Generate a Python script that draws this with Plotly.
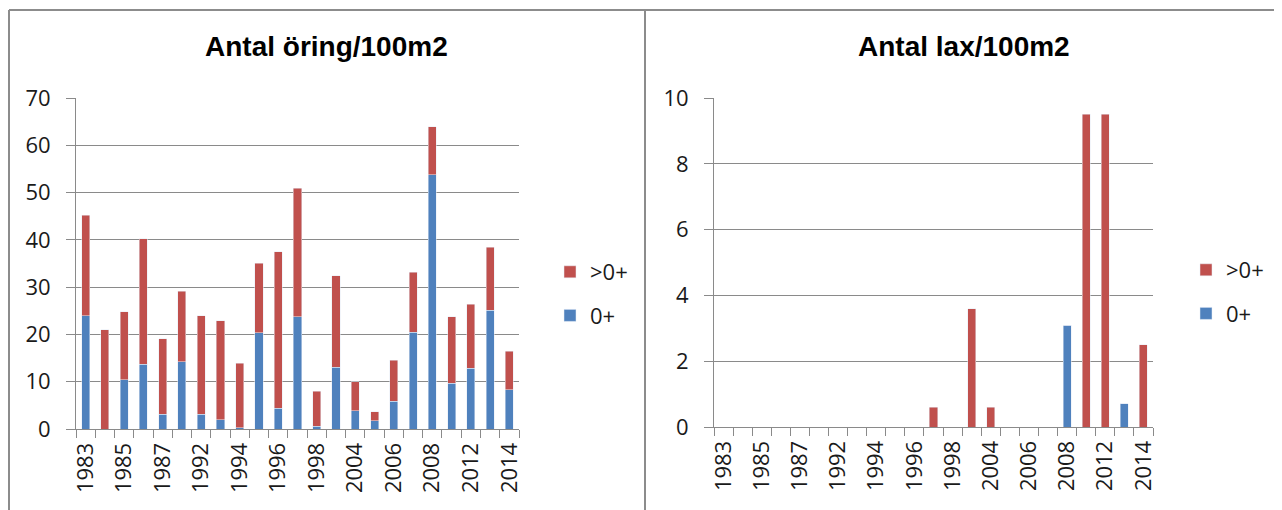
import plotly.graph_objects as go

# categories (every other one is labelled on the axis)
years = ["1983", "1984", "1985", "1986", "1987", "1991", "1992", "1993", "1994",
         "1995", "1996", "1997", "1998", "2002", "2004", "2005", "2006", "2007",
         "2008", "2010", "2012", "2013", "2014"]
tick_labels = ["1983", "", "1985", "", "1987", "", "1992", "", "1994", "",
               "1996", "", "1998", "", "2004", "", "2006", "", "2008", "",
               "2012", "", "2014"]

# Antal öring/100m2
trout_young = [24.0, 0.0, 10.4, 13.7, 3.1, 14.2, 3.1, 2.0, 0.3, 20.4, 4.4, 23.7,
               0.6, 13.1, 3.9, 1.7, 5.9, 20.5, 53.8, 9.7, 12.9, 25.1, 8.3]
trout_older = [21.2, 21.0, 14.4, 26.5, 16.0, 14.9, 20.9, 20.9, 13.6, 14.7, 33.1, 27.2,
               7.4, 19.3, 6.1, 1.9, 8.6, 12.7, 10.1, 14.0, 13.5, 13.3, 8.1]

# Antal lax/100m2
salmon_young = [0, 0, 0, 0, 0, 0, 0, 0, 0, 0, 0, 0,
                0, 0, 0, 0, 0, 0, 3.1, 0, 0, 0.7, 0]
salmon_older = [0, 0, 0, 0, 0, 0, 0, 0, 0, 0, 0, 0.6,
                0, 3.6, 0.6, 0, 0, 0, 0, 9.5, 9.5, 0, 2.5]

RED = "#C0504D"
BLUE = "#4F81BD"
GRID = "#8A8A8A"
# the page puts the plot 8px in from the top-left corner of the window
OFF = 8
W, H = 1282 - OFF, 510 - OFF
TICK_FONT = dict(family="Open Sans", size=22, color="#1a1a1a")


def px_x(v):
    return (v - OFF) / W


def px_y(v):
    return 1 - (v - OFF) / H


fig = go.Figure()
panels = [
    ("x", "y", "legend", trout_young, trout_older),
    ("x2", "y2", "legend2", salmon_young, salmon_older),
]
for xa, ya, leg, young, older in panels:
    fig.add_trace(go.Bar(x=years, y=young, name="0+", marker_color=BLUE,
                         xaxis=xa, yaxis=ya, legend=leg, legendgroup="young", legendrank=2))
    fig.add_trace(go.Bar(x=years, y=older, name=">0+", marker_color=RED,
                         xaxis=xa, yaxis=ya, legend=leg, legendgroup="older", legendrank=1))

xcommon = dict(type="category", tickmode="array", tickvals=years, ticktext=tick_labels,
               tickangle=-90, tickson="boundaries", ticks="outside", ticklen=8,
               tickcolor=GRID, showline=True, linecolor=GRID, linewidth=1,
               showgrid=False, tickfont=TICK_FONT, ticklabelstandoff=4, automargin=False)
ycommon = dict(ticks="outside", ticklen=9, tickcolor=GRID, showline=True, linecolor=GRID,
               showgrid=True, gridcolor=GRID, gridwidth=1, zeroline=False,
               tickfont=TICK_FONT, ticklabelstandoff=11, automargin=False)

legcommon = dict(font=dict(family="Open Sans", size=22, color="#1a1a1a"),
                 traceorder="grouped", tracegroupgap=12,
                 bgcolor="rgba(0,0,0,0)", xanchor="left", yanchor="top")

title_font = dict(family="Liberation Sans", size=28, color="#000")

fig.update_layout(
    width=W, height=H,
    margin=dict(l=0, r=0, t=0, b=0, autoexpand=False),
    paper_bgcolor="white", plot_bgcolor="white",
    barmode="stack", bargap=0.58,
    xaxis=dict(domain=[px_x(76), px_x(519)], anchor="y", **xcommon),
    yaxis=dict(domain=[px_y(429), px_y(98)], anchor="x", range=[0, 70], dtick=10, **ycommon),
    xaxis2=dict(domain=[px_x(714), px_x(1153)], anchor="y2", **xcommon),
    yaxis2=dict(domain=[px_y(427), px_y(98)], anchor="x2", range=[0, 10], dtick=2, **ycommon),
    legend=dict(x=px_x(550), y=px_y(251), **legcommon),
    legend2=dict(x=px_x(1186), y=px_y(249), **legcommon),
    annotations=[
        dict(text="<b>Antal öring/100m2</b>", x=px_x(327), y=px_y(46), xref="paper", yref="paper",
             showarrow=False, font=title_font, xanchor="center", yanchor="middle"),
        dict(text="<b>Antal lax/100m2</b>", x=px_x(964), y=px_y(46), xref="paper", yref="paper",
             showarrow=False, font=title_font, xanchor="center", yanchor="middle"),
    ],
    shapes=[
        dict(type="line", xref="paper", yref="paper", x0=px_x(9), x1=1, y0=px_y(10), y1=px_y(10),
             line=dict(color="#8C8C8C", width=2)),
        dict(type="line", xref="paper", yref="paper", x0=px_x(9), x1=px_x(9), y0=0, y1=px_y(10),
             line=dict(color="#8C8C8C", width=2)),
        dict(type="line", xref="paper", yref="paper", x0=px_x(645), x1=px_x(645), y0=0, y1=px_y(10),
             line=dict(color="#8C8C8C", width=2)),
    ],
)

fig.write_html("out.html")
